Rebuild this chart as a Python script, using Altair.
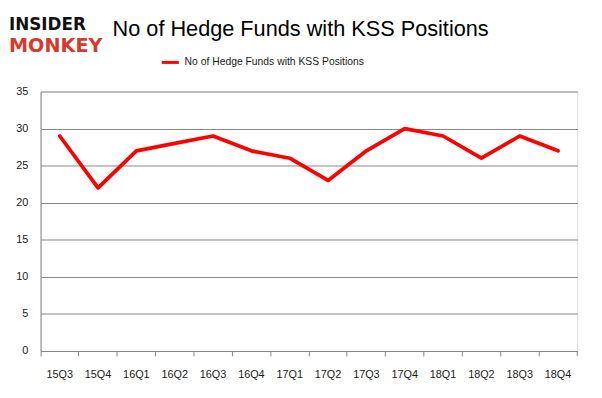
import altair as alt
import pandas as pd

quarters = ["15Q3", "15Q4", "16Q1", "16Q2", "16Q3", "16Q4", "17Q1", "17Q2",
            "17Q3", "17Q4", "18Q1", "18Q2", "18Q3", "18Q4"]
funds = [29, 22, 27, 28, 29, 27, 26, 23, 27, 30, 29, 26, 29, 27]
series_name = "No of Hedge Funds with KSS Positions"
y_ticks = [0, 5, 10, 15, 20, 25, 30, 35]

df = pd.DataFrame({"q": quarters, "v": funds, "s": [series_name] * len(quarters)})

W, H = 544, 263
FONT = "Liberation Sans"
GRID = "#868686"

line = alt.Chart(df).mark_line(strokeWidth=3.8, strokeCap="round", strokeJoin="round").encode(
    x=alt.X("q:N", sort=quarters, bandPosition=0.5,
            scale=alt.Scale(type="band", paddingInner=0, paddingOuter=0),
            axis=alt.Axis(title=None, labelAngle=0, bandPosition=0,
                          domainColor=GRID, tickColor=GRID, tickSize=5,
                          labelFont=FONT, labelFontSize=11, labelColor="#1a1a1a",
                          labelPadding=13, grid=False)),
    y=alt.Y("v:Q", scale=alt.Scale(domain=[0, 35], nice=False),
            axis=alt.Axis(title=None, values=y_ticks, grid=True, gridColor=GRID,
                          domainColor=GRID, ticks=False,
                          labelFont=FONT, labelFontSize=11, labelColor="#1a1a1a",
                          labelPadding=13)),
    color=alt.Color("s:N", scale=alt.Scale(domain=[series_name], range=["#ff0000"]),
                    legend=alt.Legend(title=None, orient="none", legendX=121, legendY=-40,
                                      symbolType="stroke", symbolStrokeWidth=3,
                                      symbolSize=300, labelFont=FONT, labelFontSize=10.5,
                                      labelColor="#1a1a1a", labelLimit=0)),
)

end_tick = alt.Chart(df.head(1)).mark_rule(color=GRID).encode(
    x=alt.value(W), y=alt.value(H), y2=alt.value(H + 5))

logo_df = pd.DataFrame({"t": ["INSIDER", "MONKEY"], "c": ["#111111", "#d63a2b"],
                        "yy": [-62, -40], "fs": [17, 19.5]})
logo = alt.Chart(logo_df).mark_text(font="DejaVu Sans", fontWeight="bold",
                                    align="left", baseline="alphabetic").encode(
    x=alt.value(-32), y=alt.Y("yy:Q", scale=None),
    size=alt.Size("fs:Q", scale=None, legend=None),
    text="t:N", color=alt.Color("c:N", scale=None),
)

title_df = pd.DataFrame({"t": ["No of Hedge Funds with KSS Positions"]})
title = alt.Chart(title_df).mark_text(font=FONT, fontSize=22, align="left",
                                      baseline="middle", color="#000000").encode(
    x=alt.value(73), y=alt.value(-63), text="t:N")

chart = alt.layer(line, end_tick, logo, title).properties(
    width=W, height=H,
    autosize=alt.AutoSizeParams(type="none"),
    padding={"left": 33, "top": 82, "right": 17, "bottom": 45},
).configure_view(stroke=None).configure(background="white")

chart.save("out.html", embed_options={"renderer": "svg", "actions": False})
